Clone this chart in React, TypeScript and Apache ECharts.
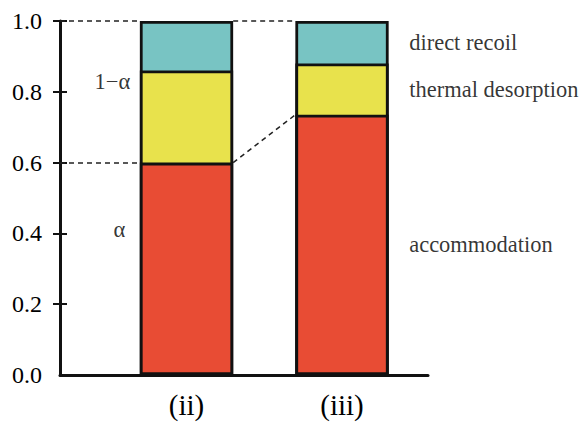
import React, { useEffect, useRef } from "react";
import * as echarts from "echarts";

const categories = ["(ii)", "(iii)"];
const accommodation = [0.6, 0.735];
const thermalDesorption = [0.26, 0.145];
const directRecoil = [0.14, 0.12];
const yTicks = [0, 0.2, 0.4, 0.6, 0.8, 1.0];

const barPos = categories.map((_, i) => i + 1);
const xMin = 0.1865;
const xMax = 2.553;
const barFrac = 0.6;
const hw = barFrac / 2;

const serif = "Liberation Serif";
const textColor = "#000";

export default function App() {
  const ref = useRef<HTMLDivElement>(null);
  useEffect(() => {
    if (!ref.current) return;
    const chart = echarts.init(ref.current, null, { renderer: "svg" });
    const top1 = accommodation;
    const top2 = accommodation.map((v, i) => v + thermalDesorption[i]);
    const top3 = top2.map((v, i) => v + directRecoil[i]);
    const segments = [
      { name: "accommodation", base: barPos.map(() => 0), top: top1, color: "#E84C34" },
      { name: "thermal desorption", base: top1, top: top2, color: "#E8E24C" },
      { name: "direct recoil", base: top2, top: top3, color: "#78C4C3" },
    ];
    const barSeries = segments
      .slice()
      .reverse()
      .map((s) => ({
        name: s.name,
        type: "bar",
        barGap: "-100%",
        barWidth: `${barFrac * 100}%`,
        itemStyle: { color: s.color, borderColor: "#111", borderWidth: 2.8 },
        data: s.top.map((v, i) => [barPos[i], v]),
      }));
    (barSeries[0] as any).markLine = {
      silent: true,
      symbol: ["none", "none"],
      label: { show: false },
      lineStyle: { type: [5, 4], color: "#222", width: 1.5 },
      data: [
        [{ coord: [xMin, top3[0]] }, { coord: [barPos[0] - hw, top3[0]] }],
        [{ coord: [barPos[0] + hw, top3[0]] }, { coord: [barPos[1] - hw, top3[1]] }],
        [{ coord: [xMin, top1[0]] }, { coord: [barPos[0] - hw, top1[0]] }],
        [{ coord: [barPos[0] + hw, top1[0]] }, { coord: [barPos[1] - hw, top1[1]] }],
      ],
    };
    const labelFont = { fontFamily: serif, fontSize: 22.5, color: textColor };
    const option: any = {
      animation: false,
      grid: { left: 60, right: 154, top: 21, bottom: 50, containLabel: false, outerBoundsMode: "none" },
      xAxis: {
        type: "value",
        min: xMin,
        max: xMax,
        splitLine: { show: false },
        axisLine: { show: true, lineStyle: { color: "#111", width: 3 } },
        axisTick: { show: false },
        axisLabel: {
          customValues: barPos,
          formatter: (v: number) => {
            const idx = barPos.indexOf(Math.round(v * 1000) / 1000);
            return idx >= 0 ? categories[idx] : "";
          },
          fontFamily: serif,
          fontSize: 29,
          color: textColor,
          margin: 15,
        },
      },
      yAxis: [
        {
          type: "value",
          min: 0,
          max: 1,
          interval: 0.2,
          splitLine: { show: false },
          axisLine: { show: true, lineStyle: { color: "#111", width: 3 } },
          axisTick: {
            show: true,
            length: 7,
            customValues: yTicks.slice(1),
            lineStyle: { color: "#111", width: 2 },
          },
          axisLabel: {
            customValues: yTicks,
            formatter: (v: number) => v.toFixed(1),
            fontFamily: serif,
            fontSize: 24,
            color: textColor,
            margin: 18,
          },
        },
        {
          type: "value",
          min: 0,
          max: 1,
          interval: 0.2,
          position: "left",
          offset: 0,
          splitLine: { show: false },
          axisLine: { show: false },
          axisTick: {
            show: true,
            inside: true,
            length: 7,
            customValues: yTicks.slice(1),
            lineStyle: { color: "#111", width: 2 },
          },
          axisLabel: { show: false },
        },
      ],
      series: [
        ...barSeries,
        {
          name: "segment labels",
          type: "scatter",
          symbolSize: 1,
          itemStyle: { color: "rgba(0,0,0,0)" },
          silent: true,
          z: 5,
          label: { show: true, position: "right", distance: 20, formatter: "{b}", ...labelFont },
          data: segments.map((s) => ({
            name: s.name,
            value: [barPos[1] + hw, (s.base[1] + s.top[1]) / 2],
          })),
        },
        {
          name: "annotations",
          type: "scatter",
          symbolSize: 1,
          itemStyle: { color: "rgba(0,0,0,0)" },
          silent: true,
          z: 5,
          label: { show: true, position: "inside", formatter: "{b}", ...labelFont },
          data: [
            { name: "1−α", value: [0.524, 0.83] },
            { name: "α", value: [0.569, 0.41] },
          ],
        },
      ],
    };
    chart.setOption(option);
    return () => chart.dispose();
  }, []);
  return (
    <div
      ref={ref}
      style={{ position: "fixed", left: 0, top: 0, width: 582, height: 425, background: "#fff" }}
    />
  );
}
